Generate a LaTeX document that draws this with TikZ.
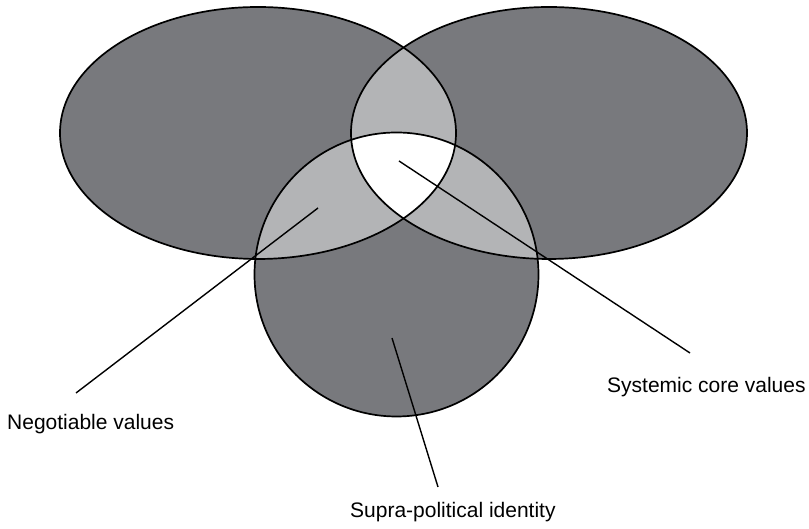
\documentclass[tikz,border=0pt]{standalone}
\usepackage{fontspec}
\setmainfont{Liberation Sans}
\begin{document}
\begin{tikzpicture}[x=1pt,y=1pt,
  region/.style={line width=1.7pt,draw=black},
  leader/.style={line width=1.4pt,draw=black},
  caption/.style={anchor=base west,inner sep=0pt,font=\fontsize{21}{25}\selectfont}]
\definecolor{darkfill}{RGB}{120,121,125}
\definecolor{lightfill}{RGB}{179,180,182}
\useasboundingbox (0,0) rectangle (809,529);

% the three value sets
\def\lefteye{(258,396) ellipse [x radius=198, y radius=126]}
\def\righteye{(549,396) ellipse [x radius=198, y radius=126]}
\def\lowdisc{(396.5,254.5) circle [radius=142]}

% single regions
\fill[darkfill] \lefteye;
\fill[darkfill] \righteye;
\fill[darkfill] \lowdisc;

% pairwise overlaps
\begin{scope}
  \clip \lefteye;
  \fill[lightfill] \righteye;
  \fill[lightfill] \lowdisc;
\end{scope}
\begin{scope}
  \clip \righteye;
  \fill[lightfill] \lowdisc;
\end{scope}

% common core
\begin{scope}
  \clip \lefteye;
  \clip \righteye;
  \fill[white] \lowdisc;
\end{scope}

% outlines
\draw[region] \lefteye;
\draw[region] \righteye;
\draw[region] \lowdisc;

% labels
\node[caption] (neg) at (7,99) {Negotiable values};
\node[caption] (sys) at (607,136) {Systemic core values};
\node[caption] (sup) at (350,11) {Supra-political identity};

% leader lines
\coordinate (negin) at (318,321);
\coordinate (negout) at (76,136);
\coordinate (sysin) at (399,368);
\coordinate (sysout) at (690,176);
\coordinate (supin) at (392,191);
\coordinate (supout) at (438,42);
\draw[leader] (negin) -- (negout);
\draw[leader] (sysin) -- (sysout);
\draw[leader] (supin) -- (supout);
\end{tikzpicture}
\end{document}
